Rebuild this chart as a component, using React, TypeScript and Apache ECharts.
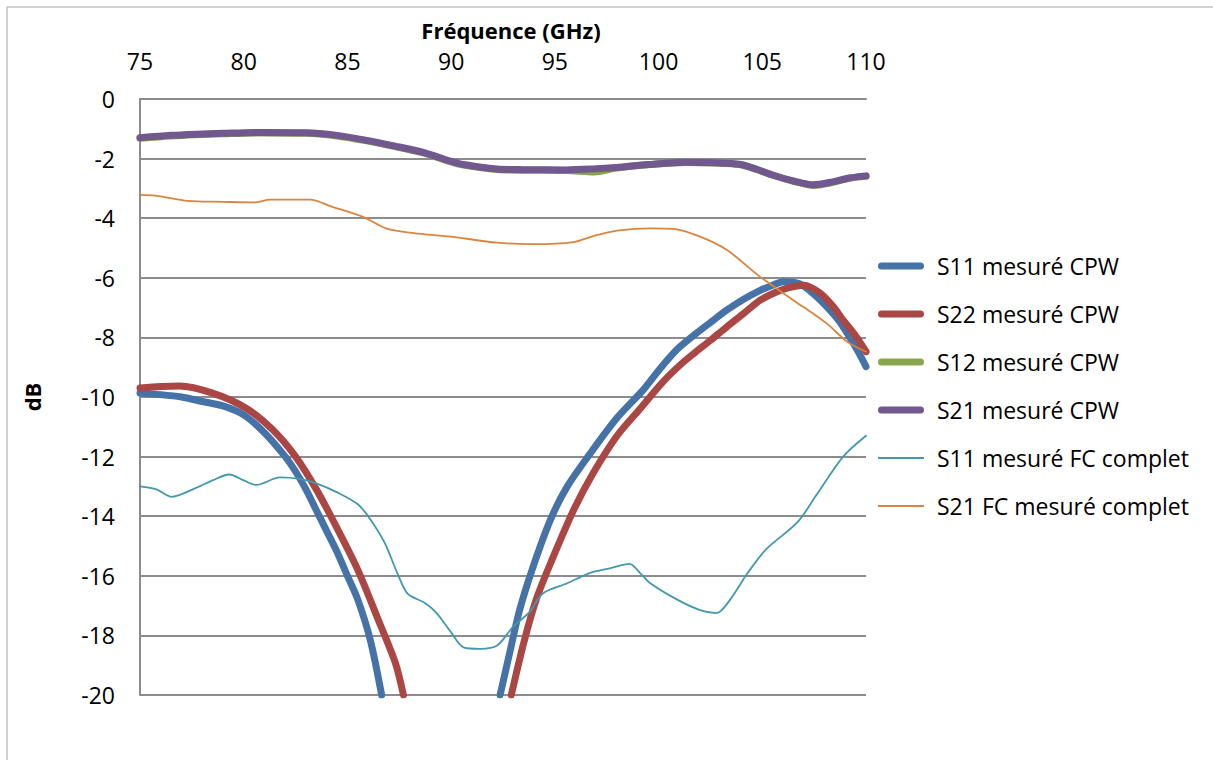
import React, { useEffect, useRef } from "react";
import * as echarts from "echarts";

// ---- Axis ticks ----
const xMin = 75, xMax = 110, xStep = 5;
const yMin = -20, yMax = 0, yStep = 2;

// ---- Series names ----
const seriesNames = [
  "S11 mesuré CPW",
  "S22 mesuré CPW",
  "S12 mesuré CPW",
  "S21 mesuré CPW",
  "S11 mesuré FC complet",
  "S21 FC mesuré complet",
];

// ---- S11 mesuré CPW (null = leaves the plot below -20 dB) ----
const s11CpwFreq = [75, 76, 77, 78, 79, 80, 81, 82, 82.5, 83, 83.5, 84, 84.5, 85, 85.5, 86.1, 86.65,
  89.5,
  92.36, 92.85, 93.3, 93.95, 94.8, 95.6, 96.7, 98, 99.25, 100.07, 100.9, 101.7, 102.5, 103.3, 104.1, 104.9, 105.5, 106, 106.8, 107.4, 108.1, 108.7, 109.2, 109.6, 110];
const s11CpwDb = [-9.87, -9.92, -10.0, -10.15, -10.3, -10.6, -11.2, -12.0, -12.5, -13.1, -13.8, -14.5, -15.2, -16.0, -16.8, -18.15, -20,
  null,
  -20, -18.5, -17.15, -15.7, -14.1, -13.0, -11.9, -10.7, -9.77, -9.05, -8.4, -7.93, -7.5, -7.08, -6.72, -6.42, -6.25, -6.13, -6.2, -6.5, -6.97, -7.45, -7.98, -8.45, -8.98];

// ---- S22 mesuré CPW ----
const s22CpwFreq = [75, 76, 76.9, 78.5, 80.1, 81.4, 82.5, 83.5, 84.5, 85.5, 86.5, 87.3, 87.7,
  90.3,
  92.9, 93.5, 94.1, 94.9, 95.9, 96.85, 98, 99.1, 100.2, 101.0, 101.7, 102.5, 103.3, 104.1, 104.9, 105.6, 106.2, 107, 107.8, 108.4, 108.9, 109.5, 110];
const s22CpwDb = [-9.7, -9.65, -9.63, -9.87, -10.37, -11.1, -12.0, -13.1, -14.4, -15.8, -17.5, -18.9, -20,
  null,
  -20, -18.25, -16.8, -15.4, -13.8, -12.55, -11.3, -10.4, -9.5, -8.95, -8.54, -8.1, -7.64, -7.2, -6.75, -6.5, -6.35, -6.25, -6.52, -6.95, -7.42, -7.95, -8.48];

// ---- S12 mesuré CPW ----
const s12CpwFreq = [75, 76.5, 77.7, 79, 80.9, 83, 84.5, 85.8, 87.3, 88.7, 89.8, 90.6, 92.2, 93.5, 95.55, 96.9, 97.96, 99.5, 101.3, 102.7, 103.9, 104.7, 105.5, 106.5, 107.45, 108.4, 109.2, 110];
const s12CpwDb = [-1.32, -1.24, -1.2, -1.17, -1.14, -1.15, -1.24, -1.39, -1.6, -1.82, -2.07, -2.22, -2.37, -2.39, -2.4, -2.45, -2.32, -2.21, -2.13, -2.15, -2.2, -2.36, -2.56, -2.76, -2.9, -2.8, -2.66, -2.59];

// ---- S21 mesuré CPW ----
const s21CpwFreq = [75, 76.5, 77.7, 79, 80.9, 83, 84.5, 85.8, 87.3, 88.7, 89.8, 90.6, 92.2, 93.5, 95.55, 96.8, 97.96, 99.5, 101.3, 102.7, 103.9, 104.7, 105.5, 106.5, 107.45, 108.4, 109.2, 110];
const s21CpwDb = [-1.3, -1.22, -1.18, -1.15, -1.12, -1.13, -1.22, -1.37, -1.58, -1.8, -2.05, -2.2, -2.35, -2.37, -2.38, -2.35, -2.3, -2.2, -2.12, -2.14, -2.19, -2.35, -2.55, -2.75, -2.88, -2.78, -2.65, -2.58];

// ---- S11 mesuré FC complet ----
const s11FcFreq = [75, 75.8, 76.5, 77.7, 78.5, 79.3, 80.0, 80.6, 81.75, 82.7, 83.5, 84.5, 85.5, 86.1, 86.8, 87.4, 87.9, 88.7, 89.3, 90, 90.6, 91.4, 92.2, 93, 93.8, 94.4, 95.6, 96.7, 97.65, 98.6, 99.1, 99.6, 100.9, 102, 102.8, 103.45, 104.3, 105.2, 106.7, 107.6, 108.9, 110];
const s11FcDb = [-13.0, -13.1, -13.35, -13.05, -12.8, -12.6, -12.8, -12.95, -12.7, -12.75, -12.9, -13.2, -13.6, -14.1, -14.9, -15.9, -16.6, -16.9, -17.25, -17.9, -18.4, -18.45, -18.35, -17.7, -17.2, -16.6, -16.25, -15.9, -15.75, -15.6, -15.9, -16.25, -16.8, -17.15, -17.25, -16.8, -15.9, -15.1, -14.2, -13.3, -12.0, -11.3];

// ---- S21 FC mesuré complet ----
const s21FcFreq = [75, 75.8, 77.3, 79, 80.5, 81.3, 83.2, 84.2, 85.8, 86.9, 88.2, 90, 92.2, 93.95, 95.9, 96.85, 98, 99.6, 100.7, 102, 103.3, 104.9, 106.5, 108.1, 109.1, 110];
const s21FcDb = [-3.22, -3.25, -3.42, -3.45, -3.47, -3.38, -3.38, -3.6, -3.97, -4.35, -4.5, -4.62, -4.82, -4.87, -4.8, -4.6, -4.42, -4.34, -4.36, -4.62, -5.07, -5.97, -6.75, -7.53, -8.15, -8.48];

const colors = ["#4572A7", "#AA4643", "#89A54E", "#71588F", "#4198AF", "#DB843D"];
const widths = [7, 7, 7, 7, 1.8, 1.8];
const thickIcon = "path://M3.5,0 L42.5,0 A3.5,3.5 0 0 1 42.5,7 L3.5,7 A3.5,3.5 0 0 1 3.5,0 Z";
const thinIcon = "path://M0,0 L46,0 L46,1.8 L0,1.8 Z";
const legendIcons = [thickIcon, thickIcon, thickIcon, thickIcon, thinIcon, thinIcon];

const toPairs = (f: number[], d: (number | null)[]) =>
  f.map((x, i) => [x, d[i] === null ? "-" : d[i]]);

const allData = [
  toPairs(s11CpwFreq, s11CpwDb),
  toPairs(s22CpwFreq, s22CpwDb),
  toPairs(s12CpwFreq, s12CpwDb),
  toPairs(s21CpwFreq, s21CpwDb),
  toPairs(s11FcFreq, s11FcDb),
  toPairs(s21FcFreq, s21FcDb),
];

const FONT = "'Open Sans', 'Noto Sans', sans-serif";

export default function App() {
  const ref = useRef<HTMLDivElement>(null);
  useEffect(() => {
    if (!ref.current) return;
    const chart = echarts.init(ref.current, null, { renderer: "svg" });
    chart.setOption({
      animation: false,
      backgroundColor: "#ffffff",
      color: colors,
      graphic: [
        {
          type: "rect",
          shape: { x: 7, y: 7, width: 1240, height: 800 },
          style: { fill: "none", stroke: "#a6a6a6", lineWidth: 1 },
          silent: true,
        },
      ],
      grid: { left: 140, top: 99, right: 347, bottom: 65, containLabel: false },
      legend: {
        orient: "vertical",
        left: 878,
        top: 254,
        padding: 0,
        itemWidth: 46,
        itemHeight: 24,
        itemGap: 24,
        symbolKeepAspect: true,
        data: seriesNames.map((name, i) => ({ name, icon: legendIcons[i] })),
        textStyle: { fontFamily: FONT, fontSize: 23, lineHeight: 24, color: "#000", padding: [0, 0, 0, 8] },
      },
      xAxis: {
        type: "value",
        position: "top",
        min: xMin,
        max: xMax,
        interval: xStep,
        name: "Fréquence (GHz)",
        nameLocation: "middle",
        nameGap: 58,
        nameTextStyle: { fontFamily: FONT, fontSize: 22, fontWeight: "bold", color: "#000", padding: [0, 0, 0, 16] },
        axisLine: { show: true, lineStyle: { color: "#8c8c8c", width: 2 } },
        axisTick: { show: false },
        axisLabel: { fontFamily: FONT, fontSize: 23, color: "#000", margin: 27 },
        splitLine: { show: false },
      },
      yAxis: {
        type: "value",
        min: yMin,
        max: yMax,
        interval: yStep,
        name: "dB",
        nameLocation: "middle",
        nameGap: 97,
        nameRotate: 90,
        nameTextStyle: { fontFamily: FONT, fontSize: 22, fontWeight: "bold", color: "#000" },
        axisLine: { show: true, lineStyle: { color: "#8c8c8c", width: 2 } },
        axisTick: { show: false },
        axisLabel: { fontFamily: FONT, fontSize: 23, color: "#000", margin: 25 },
        splitLine: { show: true, lineStyle: { color: "#8c8c8c", width: 2 } },
      },
      series: seriesNames.map((name, i) => ({
        name,
        type: "line",
        data: allData[i],
        symbol: "none",
        smooth: 0.3,
        connectNulls: false,
        clip: true,
        lineStyle: { width: widths[i], color: colors[i], cap: "round", join: "round" },
        itemStyle: { color: colors[i] },
        z: 2 + i,
      })),
    });
    return () => chart.dispose();
  }, []);
  return (
    <div
      ref={ref}
      style={{ position: "absolute", left: 0, top: 0, width: 1213, height: 760 }}
    />
  );
}
